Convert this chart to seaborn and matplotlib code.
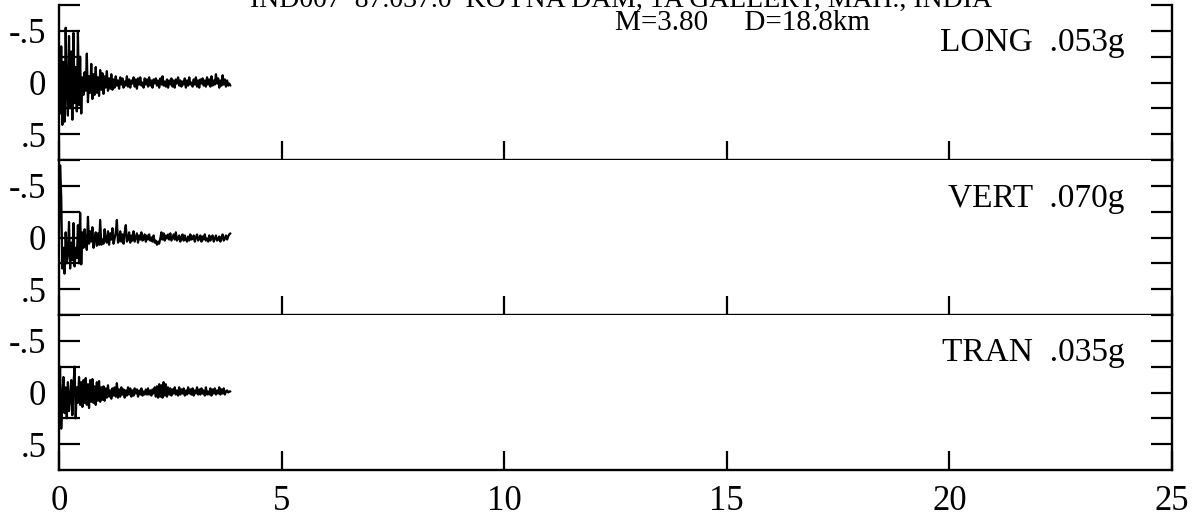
import numpy as np
import pandas as pd
import matplotlib
matplotlib.use("Agg")
import matplotlib.pyplot as plt
import seaborn as sns

# Strong-motion record, Koyna Dam gallery: three components sampled every 0.025 s.
# Amplitudes in tenths of g (axis units); positive values plot downward.
DT = 0.025

long_acc = [
    0.00, 0.30, -0.35, 0.41, -0.20, 0.38, -0.53, 0.10, 0.32, -0.45,
    0.25, -0.30, 0.36, -0.48, 0.20, -0.15, 0.28, -0.50, 0.22, -0.25,
    0.30, -0.05, 0.12, -0.10, 0.08, -0.28, 0.19, -0.06, 0.10, -0.18,
    0.16, -0.08, 0.12, -0.15, 0.10, -0.05, 0.13, -0.12, 0.07, -0.09,
    0.11, -0.06, 0.05, -0.11, 0.08, -0.04, 0.06, -0.08, 0.07, -0.03,
    0.05, -0.06, 0.03, -0.02, 0.06, -0.05, 0.02, -0.04, 0.05, -0.01,
    0.03, -0.06, 0.04, -0.03, 0.05, -0.02, 0.01, -0.05, 0.04, -0.03,
    0.06, -0.04, 0.02, -0.05, 0.03, 0.00, 0.05, -0.04, 0.02, -0.03,
    0.04, -0.05, 0.03, -0.02, 0.05, -0.03, 0.01, -0.04, 0.03, -0.02,
    0.05, -0.04, 0.02, -0.06, 0.03, -0.01, 0.04, -0.03, 0.05, -0.02,
    0.02, -0.04, 0.04, -0.02, 0.05, -0.03, 0.01, -0.05, 0.03, -0.02,
    0.04, -0.01, 0.02, -0.04, 0.05, -0.02, 0.03, -0.05, 0.02, 0.00,
    0.04, -0.03, 0.02, -0.05, 0.04, -0.02, 0.05, -0.03, 0.01, -0.04,
    0.03, -0.02, 0.04, -0.05, 0.02, -0.03, 0.04, -0.06, 0.03, -0.02,
    0.02, -0.08, 0.01, -0.04, 0.05, -0.02, 0.03, -0.07, 0.02, -0.03,
    0.04, -0.02, 0.03, 0.01, 0.03,
]

vert_acc = [
    0.00, -0.70, -0.40, 0.30, 0.10, 0.35, -0.05, 0.25, 0.15, -0.15,
    0.30, 0.05, 0.22, -0.14, 0.28, 0.10, 0.20, -0.12, 0.25, -0.24,
    0.26, -0.05, 0.10, -0.08, 0.05, 0.12, -0.20, 0.06, -0.06, 0.04,
    -0.10, 0.10, 0.02, -0.05, 0.08, -0.04, 0.07, -0.17, 0.07, 0.02,
    0.06, -0.08, 0.03, 0.05, -0.06, 0.07, -0.04, 0.02, -0.09, 0.06,
    0.01, -0.05, -0.17, 0.05, 0.03, -0.06, 0.04, -0.03, 0.06, -0.05,
    -0.12, 0.04, 0.02, -0.05, 0.05, -0.02, 0.03, -0.06, 0.04, 0.00,
    -0.04, 0.05, -0.02, 0.02, -0.05, 0.03, 0.01, -0.03, 0.04, -0.02,
    0.02, -0.03, 0.03, 0.00, 0.04, -0.02, 0.05, 0.03, 0.07, 0.04,
    0.06, 0.01, -0.05, 0.02, -0.04, 0.03, -0.02, 0.01, -0.03, 0.02,
    -0.04, 0.03, 0.00, -0.03, 0.02, -0.05, 0.03, 0.01, -0.02, 0.04,
    0.00, -0.03, 0.03, -0.02, 0.02, 0.04, -0.01, 0.03, -0.03, 0.02,
    0.01, -0.02, 0.04, 0.00, -0.03, 0.03, 0.01, -0.02, 0.04, -0.01,
    0.02, -0.03, 0.03, 0.01, 0.04, -0.02, 0.03, 0.00, -0.02, 0.04,
    0.01, -0.02, 0.03, 0.02, -0.01, 0.04, 0.00, -0.03, 0.03, 0.01,
    -0.02, 0.02, -0.01, -0.03, -0.04,
]

tran_acc = [
    0.00, -0.25, 0.35, 0.05, -0.15, 0.20, -0.05, 0.25, -0.10, 0.18,
    0.05, -0.12, 0.22, -0.08, -0.25, 0.25, -0.05, 0.10, -0.15, 0.12,
    -0.10, 0.14, -0.12, 0.10, -0.14, 0.12, -0.08, 0.15, -0.12, 0.09,
    -0.13, 0.10, -0.06, 0.12, -0.10, 0.08, -0.11, 0.09, -0.05, 0.07,
    -0.06, 0.08, -0.04, 0.05, -0.07, 0.04, -0.02, 0.06, -0.04, 0.03,
    -0.05, 0.04, -0.09, 0.05, -0.03, 0.04, -0.05, 0.02, -0.03, 0.05,
    -0.02, 0.03, -0.05, 0.02, -0.04, 0.04, -0.02, 0.03, -0.04, 0.01,
    -0.03, 0.04, -0.02, 0.02, -0.04, 0.03, -0.01, 0.02, -0.03, 0.02,
    -0.04, 0.02, -0.02, 0.03, -0.03, 0.01, -0.05, 0.04, -0.06, 0.05,
    -0.08, 0.04, -0.07, 0.05, -0.10, 0.03, -0.08, 0.04, -0.05, 0.02,
    -0.04, 0.03, -0.03, 0.01, -0.05, 0.02, -0.02, 0.03, -0.05, 0.02,
    -0.03, 0.01, -0.04, 0.03, -0.02, 0.02, -0.05, 0.01, -0.03, 0.02,
    -0.04, 0.03, -0.02, 0.01, -0.05, 0.02, -0.03, 0.02, -0.04, 0.01,
    -0.02, 0.03, -0.05, 0.02, -0.01, 0.02, -0.04, 0.03, -0.03, 0.01,
    -0.04, 0.02, -0.02, 0.01, -0.05, 0.02, -0.03, 0.01, -0.04, 0.02,
    -0.01, -0.02, 0.00, -0.01, -0.01,
]

components = ["LONG", "VERT", "TRAN"]
x_ticks = [0, 5, 10, 15, 20, 25]
y_ticks = [-0.75, -0.5, -0.25, 0, 0.25, 0.5]
y_labels = ["", "-.5", "", "0", "", ".5"]
title_line1 = "IND007  87.037.0  KOYNA DAM, 1A GALLERY, MAH., INDIA"
title_line2 = "M=3.80     D=18.8km"

records = {"LONG": long_acc, "VERT": vert_acc, "TRAN": tran_acc}
frames = []
for comp in components:
    vals = np.asarray(records[comp])
    frames.append(pd.DataFrame({"time": np.arange(len(vals)) * DT,
                                "acc": vals, "component": comp}))
data = pd.concat(frames, ignore_index=True)

sns.set_style("white")
plt.rcParams["font.family"] = ["Liberation Serif", "DejaVu Serif"]
plt.rcParams["axes.linewidth"] = 1.7

fig = plt.figure(figsize=(11.95, 5.16), dpi=100)
left, width = 59 / 1195, (1172 - 59) / 1195
panel_h = 155 / 516
bottom0 = (516 - 470) / 516

for i, comp in enumerate(components):
    bottom = bottom0 + (2 - i) * panel_h
    ax = fig.add_axes([left, bottom, width, panel_h])
    sub = data[data["component"] == comp]
    sns.lineplot(data=sub, x="time", y="acc", ax=ax, color="black",
                 linewidth=1.6, estimator=None, sort=False)
    ax.set_xlim(0, 25)
    ax.set_ylim(0.75, -0.75)
    ax.set_xticks(x_ticks)
    ax.set_yticks(y_ticks)
    ax.set_yticklabels(y_labels, fontsize=25)
    ax.set_xlabel("")
    ax.set_ylabel("")
    ax.spines["top"].set_visible(False)
    for s in ("left", "right", "bottom"):
        ax.spines[s].set_color("black")
    ax.tick_params(axis="y", direction="in", left=True, right=True,
                   length=15, width=1.6, pad=9, colors="black")
    ax.tick_params(axis="x", direction="in", bottom=True, length=14,
                   width=1.6, pad=11, colors="black", labelsize=25)
    if i < 2:
        ax.set_xticklabels([])
    else:
        ax.set_xticklabels([str(v) for v in x_ticks])

    peak = np.max(np.abs(records[comp])) / 10.0
    label = f"{comp}  " + f"{peak:.3f}".lstrip("0") + "g"
    ax.text(0.957, 0.70, label, transform=ax.transAxes, ha="right",
            va="baseline", fontsize=24, color="black")

fig.text(0.52, 0.987, title_line1, ha="center", va="baseline",
         fontsize=20, color="black")
fig.text(0.621, 0.941, title_line2, ha="center", va="baseline",
         fontsize=21, color="black")

fig.savefig("out.png", dpi=100, facecolor="white")
